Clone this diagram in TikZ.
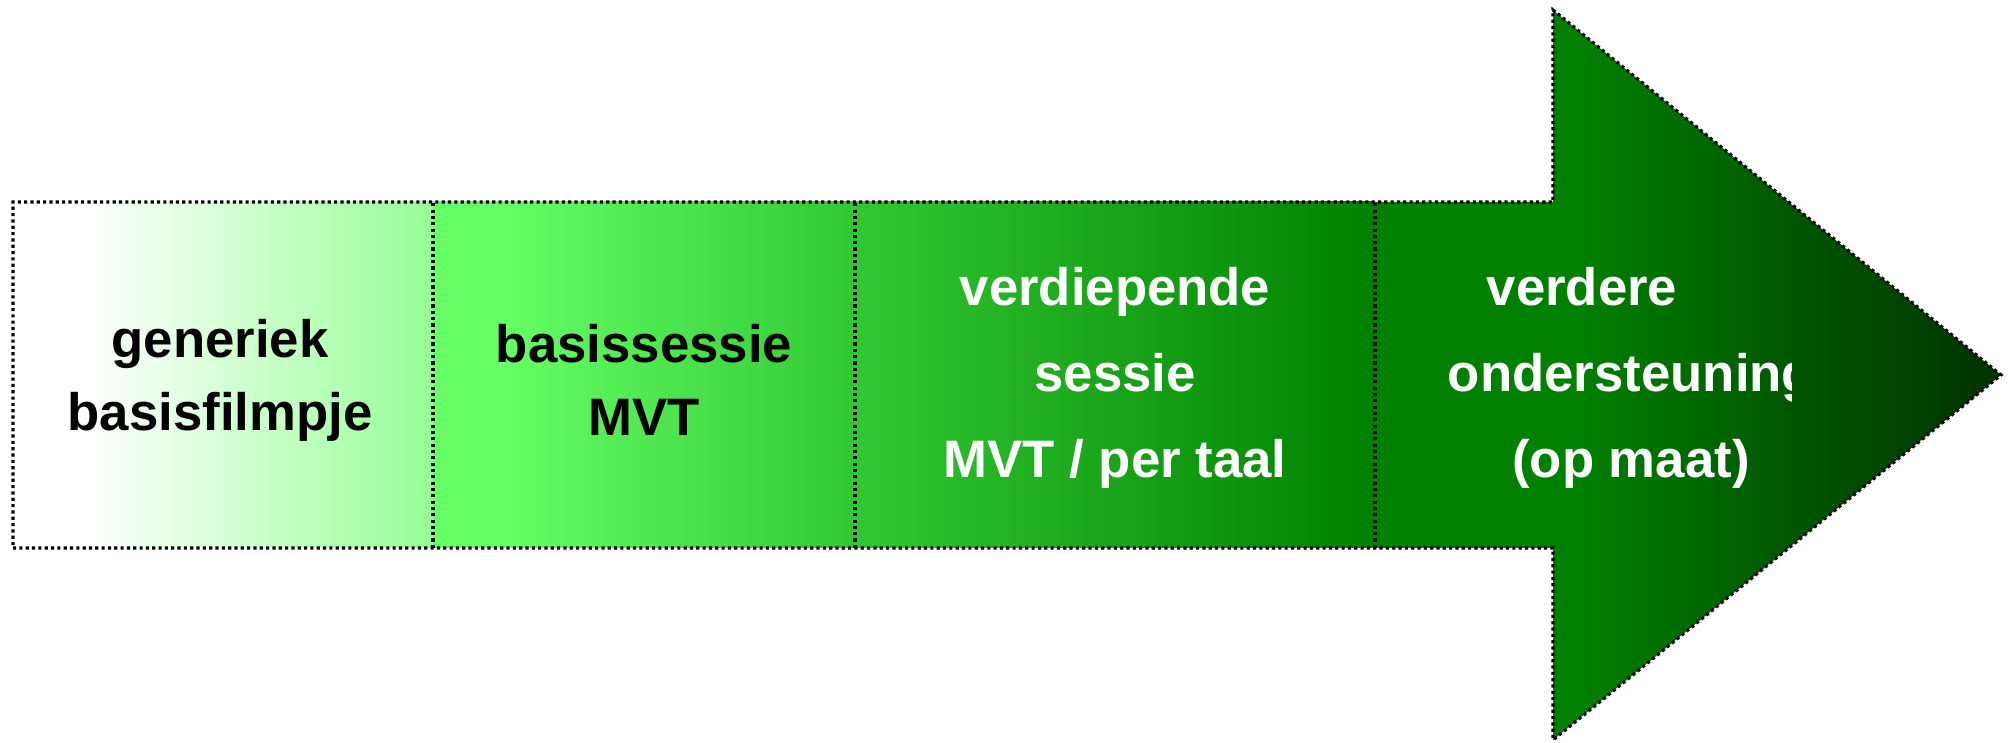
\documentclass[tikz,border=0pt]{standalone}
\usepackage{fontspec}
\setmainfont{Liberation Sans}
\usetikzlibrary{positioning,calc}
\definecolor{paleg}{RGB}{150,255,150}
\definecolor{lightg}{RGB}{102,255,102}
\definecolor{midg}{RGB}{50,200,50}
\definecolor{darkg}{RGB}{0,128,0}
\definecolor{headg}{RGB}{0,85,0}
\definecolor{deepg}{RGB}{0,50,0}
% every path spans 25bp..75bp of its shading
\pgfdeclarehorizontalshading{genshade}{100bp}{color(0bp)=(white); color(34bp)=(white); color(75bp)=(paleg); color(100bp)=(paleg)}
\pgfdeclarehorizontalshading{basisshade}{100bp}{color(0bp)=(lightg); color(33bp)=(lightg); color(75bp)=(midg); color(100bp)=(midg)}
\pgfdeclarehorizontalshading{headshade}{100bp}{color(0bp)=(darkg); color(41bp)=(darkg); color(59bp)=(headg); color(75bp)=(deepg); color(100bp)=(deepg)}
\begin{document}
\begin{tikzpicture}[x=1cm,y=1cm]
\tikzstyle{phasetxt} = [align=center, font=\fontsize{15}{20.8}\selectfont\bfseries, inner sep=0pt]
\tikzstyle{phasetxtw} = [phasetxt, text=white, font=\fontsize{15}{24.5}\selectfont\bfseries]
\tikzstyle{border} = [line width=0.9pt, dash pattern=on 0.9pt off 0.9pt]

\useasboundingbox (0,0) rectangle (20.09,7.43);

% corners of the band and the head
\coordinate (A0) at (0.13,1.95);
\coordinate (B0) at (0.13,5.41);
\coordinate (A1) at (4.33,1.95);
\coordinate (B1) at (4.33,5.41);
\coordinate (A2) at (8.55,1.95);
\coordinate (B2) at (8.55,5.41);
\coordinate (A3) at (13.75,1.95);
\coordinate (B3) at (13.75,5.41);
\coordinate (A4) at (15.53,1.95);
\coordinate (B4) at (15.53,5.41);
\coordinate (HL) at (15.53,0.03);
\coordinate (HU) at (15.53,7.33);
\coordinate (tip) at (20.01,3.68);

\shade[shading=genshade] (A0) rectangle (B1);
\shade[shading=basisshade] (A1) rectangle (B2);
\shade[left color=midg, right color=darkg] (A2) rectangle (B3);
\shade[shading=headshade]
  (A3) -- (A4) -- (HL) -- (tip) -- (HU) -- (B4) -- (B3) -- cycle;

\draw[border] (A0) -- (A4) -- (HL) -- (tip) -- (HU) -- (B4) -- (B0) -- cycle;
\draw[border] (A1) -- (B1);
\draw[border] (A2) -- (B2);
\draw[border] (A3) -- (B3);

\node[phasetxt] (gen) at (2.20,3.63) {generiek\\basisfilmpje};
\node[phasetxt] (basis) at (6.44,3.63) {basissessie\\MVT};
\node[phasetxtw] (verd) at (11.15,3.65) {verdiepende\\sessie\\MVT / per taal};
\begin{scope}
  \clip (A3) rectangle (17.91,5.41);
  \node[phasetxtw] (verder) at (16.31,3.65) {verdere\hspace*{0.98cm}\\ondersteuning\\(op maat)};
\end{scope}

\end{tikzpicture}
\end{document}
